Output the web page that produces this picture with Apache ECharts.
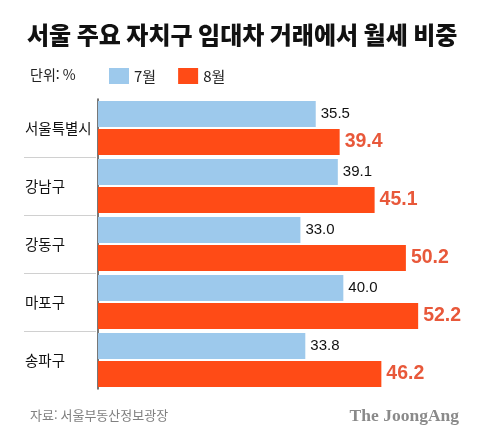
<!DOCTYPE html>
<html lang="ko">

<head>
    <meta charset="UTF-8">
    <title>서울 주요 자치구 임대차 거래에서 월세 비중</title>
    <style>
        * {
            margin: 0;
            padding: 0;
        }

        body {
            background: #fff;
        }

        .box {
            width: 480px;
            height: 442px;
        }
    </style>
</head>

<body>
    <div class="box" id="main"></div>

    <script src="https://cdn.jsdelivr.net/npm/echarts@6/dist/echarts.min.js"></script>
    <script>
        // 데이터
        var districts = ['서울특별시', '강남구', '강동구', '마포구', '송파구'];
        var julyShare = [35.5, 39.1, 33.0, 40.0, 33.8];
        var augShare = [39.4, 45.1, 50.2, 52.2, 46.2];
        var seriesNames = ['7월', '8월'];

        var KR = '"Noto Sans CJK KR", "Noto Sans", sans-serif';
        var NUM = '"Liberation Sans", Arial, sans-serif';

        var myChart = echarts.init(document.getElementById('main'));

        var option = {
            backgroundColor: '#fff',
            animation: false,
            title: [{
                text: '서울 주요 자치구 임대차 거래에서 월세 비중',
                left: 22,
                top: 18,
                textStyle: {
                    fontFamily: KR,
                    fontSize: 24,
                    fontWeight: 900,
                    color: '#111'
                }
            }, {
                text: '단위: %',
                left: 25,
                top: 63,
                textStyle: {
                    fontFamily: KR,
                    fontSize: 14,
                    fontWeight: 'normal',
                    color: '#222'
                }
            }, {
                text: '자료: 서울부동산정보광장',
                left: 25,
                top: 404,
                textStyle: {
                    fontFamily: KR,
                    fontSize: 13,
                    fontWeight: 'normal',
                    color: '#808080'
                }
            }, {
                text: 'The JoongAng',
                right: 16,
                top: 402,
                textStyle: {
                    fontFamily: '"Liberation Serif", "DejaVu Serif", serif',
                    fontSize: 17.5,
                    fontWeight: 'bold',
                    color: '#8a8a8a'
                }
            }],
            legend: {
                data: seriesNames,
                left: 104,
                top: 63,
                itemWidth: 20,
                itemHeight: 16,
                itemGap: 22,
                icon: 'rect',
                textStyle: {
                    fontFamily: KR,
                    fontSize: 15,
                    color: '#222'
                }
            },
            grid: {
                left: 98,
                right: 14,
                top: 99,
                bottom: 53,
                containLabel: false
            },
            xAxis: {
                type: 'value',
                min: 0,
                max: 60,
                show: false
            },
            yAxis: {
                type: 'category',
                inverse: true,
                data: districts,
                axisLine: {
                    show: true,
                    lineStyle: { color: '#4a4a4a', width: 1.5 }
                },
                axisTick: { show: false },
                splitLine: { show: false },
                axisLabel: {
                    align: 'left',
                    margin: 73,
                    fontFamily: KR,
                    fontSize: 14.5,
                    color: '#111'
                }
            },
            series: [{
                name: seriesNames[0],
                type: 'bar',
                data: julyShare,
                barWidth: 26,
                barGap: '8%',
                itemStyle: { color: '#9dc9ec' },
                label: {
                    show: true,
                    position: 'right',
                    distance: 5,
                    formatter: function (p) { return p.value.toFixed(1); },
                    fontFamily: NUM,
                    fontSize: 15,
                    color: '#111'
                }
            }, {
                name: seriesNames[1],
                type: 'bar',
                data: augShare,
                barWidth: 26,
                itemStyle: { color: '#ff4b16' },
                label: {
                    show: true,
                    position: 'right',
                    distance: 5,
                    formatter: function (p) { return p.value.toFixed(1); },
                    fontFamily: NUM,
                    fontSize: 19.5,
                    fontWeight: 'bold',
                    color: '#e8583a'
                }
            }]
        };

        myChart.setOption(option);

        // 구 사이 구분선 (라벨 영역)
        var lines = [];
        for (var i = 1; i < districts.length; i++) {
            var a = myChart.convertToPixel({ yAxisIndex: 0 }, districts[i - 1]);
            var b = myChart.convertToPixel({ yAxisIndex: 0 }, districts[i]);
            var y = Math.round((a + b) / 2) + 0.5;
            lines.push({
                type: 'line',
                shape: { x1: 24, y1: y, x2: 96, y2: y },
                style: { stroke: '#d0d0d0', lineWidth: 1 },
                silent: true
            });
        }
        myChart.setOption({ graphic: lines });
    </script>
</body>

</html>
